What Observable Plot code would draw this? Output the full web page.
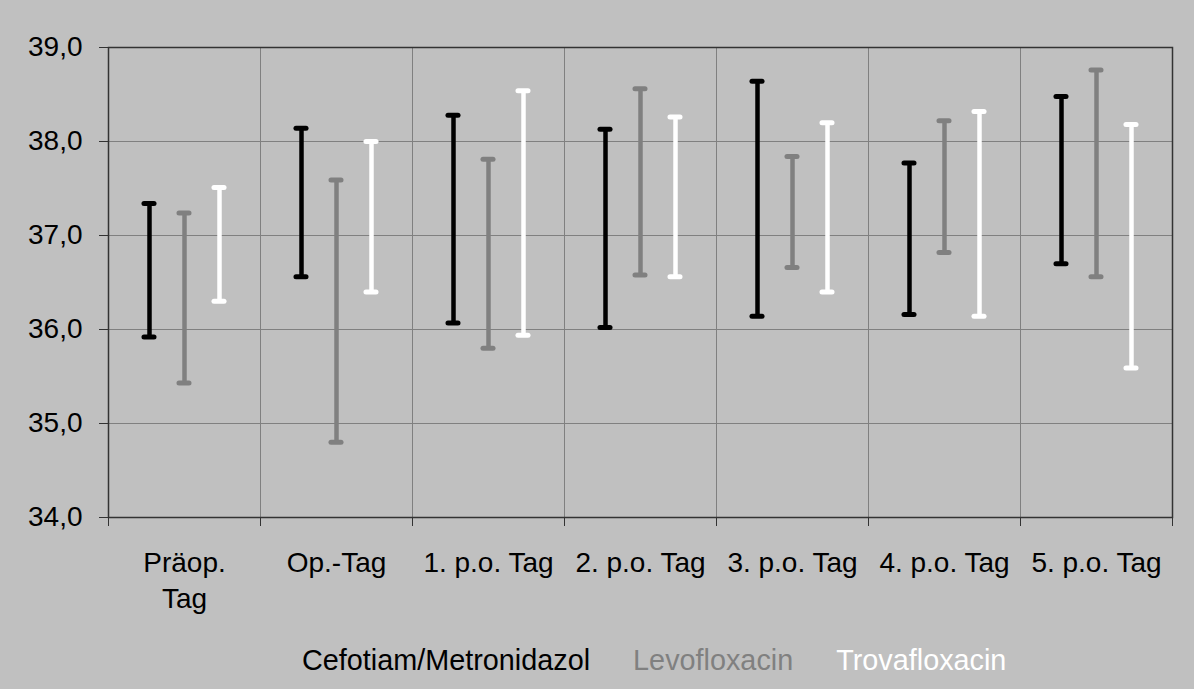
<!DOCTYPE html>
<html>
<head>
<meta charset="utf-8">
<script src="https://cdn.jsdelivr.net/npm/d3@7"></script>
<script src="https://cdn.jsdelivr.net/npm/@observablehq/plot@0.6"></script>
<style>
  html, body { margin: 0; padding: 0; background: #c0c0c0; }
  #wrap { position: relative; width: 1194px; height: 689px; background: #c0c0c0; overflow: hidden; font-family: "Liberation Sans", Arial, sans-serif; }
  #legend { position: absolute; top: 646px; left: 302px; font-size: 28.8px; line-height: 1; white-space: nowrap; }
  #legend span { margin-right: 43px; }
</style>
</head>
<body>
<div id="wrap">
  <div id="chart"></div>
  <div id="legend"></div>
</div>
<script>
const categories = ["Präop.\nTag", "Op.-Tag", "1. p.o. Tag", "2. p.o. Tag", "3. p.o. Tag", "4. p.o. Tag", "5. p.o. Tag"];
const seriesNames = ["Cefotiam/Metronidazol", "Levofloxacin", "Trovafloxacin"];
const cefHigh = [37.34, 38.14, 38.28, 38.13, 38.64, 37.77, 38.48];
const cefLow  = [35.92, 36.56, 36.07, 36.02, 36.14, 36.16, 36.70];
const levHigh = [37.24, 37.59, 37.81, 38.56, 37.84, 38.22, 38.76];
const levLow  = [35.43, 34.80, 35.80, 36.58, 36.66, 36.82, 36.56];
const troHigh = [37.51, 38.00, 38.54, 38.26, 38.20, 38.32, 38.18];
const troLow  = [36.30, 36.40, 35.94, 36.56, 36.40, 36.14, 35.59];
const yTicks = [34, 35, 36, 37, 38, 39];

const colors = ["#000000", "#808080", "#ffffff"];
const offsets = [-35, 0, 35];
const highs = [cefHigh, levHigh, troHigh];
const lows = [cefLow, levLow, troLow];

const capHalf = 0.033;
const marks = [
  Plot.gridY(yTicks, {stroke: "#808080", strokeOpacity: 1}),
  Plot.ruleX(d3.range(1, categories.length), {stroke: "#808080", strokeOpacity: 1}),
];
seriesNames.forEach((name, s) => {
  const rows = categories.map((c, i) => ({i, high: highs[s][i], low: lows[s][i]}));
  marks.push(
    Plot.ruleX(rows, {x: d => d.i + 0.5, y1: "low", y2: "high", stroke: colors[s], strokeWidth: 4.5, dx: offsets[s]}),
    Plot.ruleY(rows, {y: "high", x1: d => d.i + 0.5 - capHalf, x2: d => d.i + 0.5 + capHalf, stroke: colors[s], strokeWidth: 5, strokeLinecap: "round", dx: offsets[s]}),
    Plot.ruleY(rows, {y: "low", x1: d => d.i + 0.5 - capHalf, x2: d => d.i + 0.5 + capHalf, stroke: colors[s], strokeWidth: 5, strokeLinecap: "round", dx: offsets[s]})
  );
});
marks.push(
  Plot.frame({stroke: "#333333", strokeWidth: 1.5}),
  Plot.axisX({ticks: d3.range(0, categories.length + 1), tickSize: 9, tickFormat: () => "", stroke: "#333333"}),
  Plot.axisX({ticks: d3.range(categories.length).map(i => i + 0.5), tickSize: 0, tickPadding: 28, tickFormat: v => categories[Math.floor(v)], fontSize: 28, lineHeight: 1.31}),
  Plot.axisY({ticks: yTicks, tickSize: 9, tickPadding: 17, tickFormat: d => d.toFixed(1).replace(".", ","), fontSize: 28, stroke: "#333333"})
);

const chart = Plot.plot({
  width: 1194,
  height: 620,
  marginLeft: 108,
  marginRight: 22,
  marginTop: 47,
  marginBottom: 103,
  x: {type: "linear", domain: [0, categories.length]},
  y: {domain: [34, 39]},
  style: {background: "#c0c0c0", color: "#000", fontFamily: "'Liberation Sans', Arial, sans-serif"},
  marks
});
document.getElementById("chart").appendChild(chart);

const legend = document.getElementById("legend");
seriesNames.forEach((name, s) => {
  const span = document.createElement("span");
  span.textContent = name;
  span.style.color = colors[s];
  legend.appendChild(span);
});
</script>
</body>
</html>
